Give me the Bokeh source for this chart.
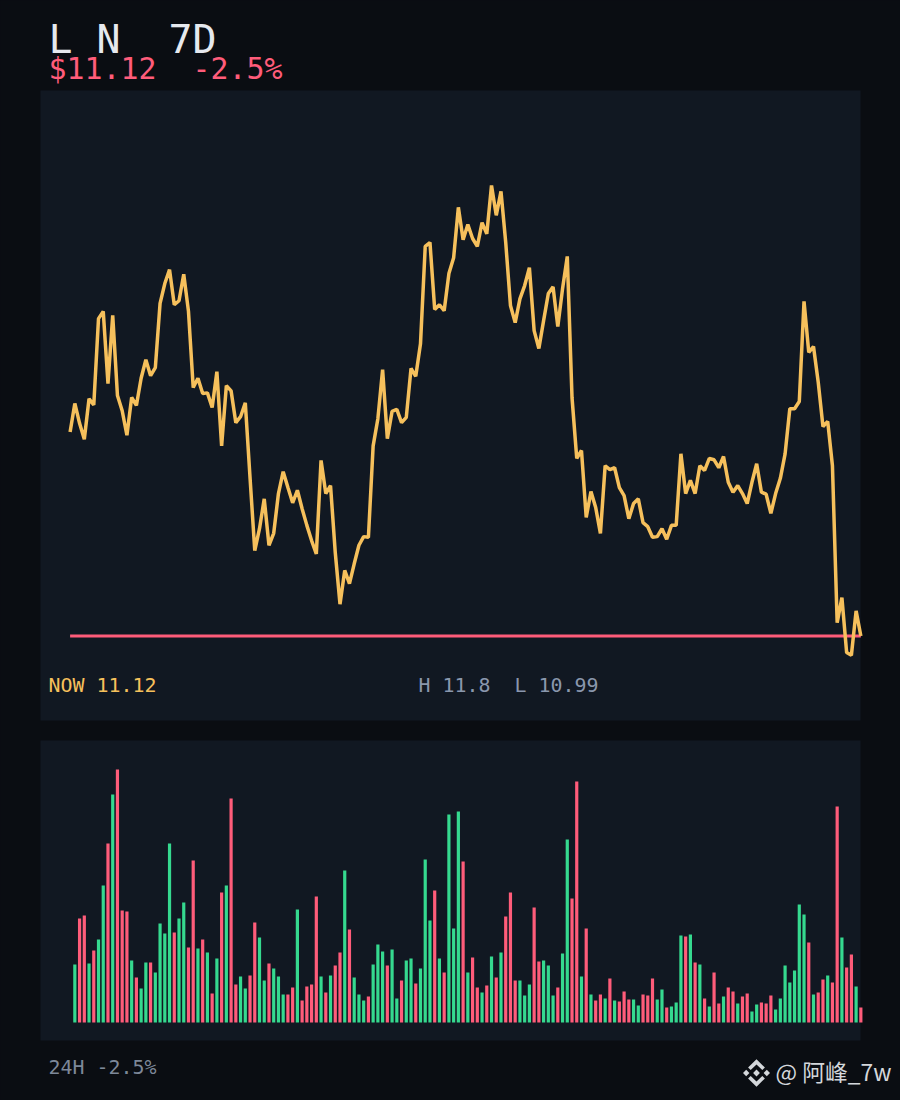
from bokeh.plotting import figure
from bokeh.models import Range1d
from bokeh.core.properties import value
from bokeh.embed import file_html
from bokeh.resources import INLINE

title_text = "L N  7D"
price_text = "$11.12  -2.5%"
now_text = "NOW 11.12"
hilo_text = "H 11.8  L 10.99"
footer_text = "24H -2.5%"
watermark_text = "@ 阿峰_7w"
now_price = 11.12

prices = [
    11.428, 11.471, 11.441, 11.417, 11.478, 11.469, 11.599, 11.610, 11.501, 11.604,
    11.483, 11.460, 11.423, 11.480, 11.468, 11.509, 11.537, 11.513, 11.525, 11.622,
    11.652, 11.673, 11.620, 11.626, 11.666, 11.610, 11.495, 11.509, 11.486, 11.487,
    11.465, 11.519, 11.407, 11.498, 11.490, 11.442, 11.451, 11.472, 11.359, 11.249,
    11.282, 11.327, 11.257, 11.275, 11.335, 11.368, 11.344, 11.321, 11.340, 11.312,
    11.287, 11.264, 11.244, 11.385, 11.335, 11.347, 11.246, 11.168, 11.219, 11.199,
    11.229, 11.257, 11.270, 11.269, 11.407, 11.448, 11.522, 11.418, 11.459, 11.462,
    11.442, 11.450, 11.524, 11.512, 11.561, 11.708, 11.714, 11.613, 11.620, 11.611,
    11.667, 11.691, 11.767, 11.718, 11.741, 11.720, 11.708, 11.744, 11.727, 11.800,
    11.755, 11.791, 11.714, 11.619, 11.593, 11.629, 11.649, 11.676, 11.581, 11.554,
    11.596, 11.637, 11.647, 11.587, 11.644, 11.693, 11.480, 11.388, 11.400, 11.299,
    11.338, 11.314, 11.275, 11.377, 11.371, 11.374, 11.344, 11.332, 11.297, 11.320,
    11.327, 11.291, 11.285, 11.269, 11.270, 11.282, 11.266, 11.287, 11.287, 11.395,
    11.335, 11.355, 11.335, 11.377, 11.370, 11.388, 11.386, 11.374, 11.391, 11.352,
    11.337, 11.347, 11.335, 11.320, 11.352, 11.380, 11.337, 11.334, 11.305, 11.335,
    11.358, 11.395, 11.463, 11.463, 11.474, 11.625, 11.548, 11.557, 11.503, 11.436,
    11.444, 11.377, 11.140, 11.178, 11.095, 11.091, 11.158, 11.120,
]

volumes = [
    58, 104, 107, 59, 72, 83, 137, 179, 228, 253, 112, 111, 62, 45, 34, 60, 60, 50, 99, 89,
    179, 90, 104, 120, 75, 162, 74, 83, 70, 29, 64, 130, 137, 224, 38, 46, 34, 47, 100, 85,
    42, 59, 54, 46, 28, 28, 35, 113, 22, 36, 38, 126, 46, 30, 47,
    57, 70, 152, 93, 45, 28, 22, 26, 58, 78, 71, 57, 73, 24, 42, 62, 64, 39, 54, 163,
    102, 132, 64, 50, 208, 94, 211, 161, 50, 65, 35, 30, 37, 66, 45, 70, 106, 130, 42, 42,
    27, 38, 115, 61, 62, 57, 27, 35, 69, 183, 124, 241, 46, 94, 28, 22, 28,
    24, 44, 22, 21, 31, 23, 23, 17, 28, 27, 44, 23, 33, 15, 16, 20, 87, 86, 88, 60,
    58, 24, 16, 50, 19, 26, 35, 31, 19, 26, 29, 11, 18, 20, 19, 27, 13, 24, 57, 40,
    52, 118, 108, 80, 28, 30, 43, 47, 40, 216, 85, 55, 68, 36, 15,
]

volume_sides = list(
    "GRRGRGGRGRRRGRGGRGGGGRGGRRGRGRGRGRRGGRRGGRGGGRRGRRRRGRG"
    "RRGRGGGRGGGRGGRGGRGGGRGRGGGRGRRGRGRGRRRGGGRRGGGRGGRRGRGRR"
    "GRGRRRGGRRRGGRGGGRGRGRGRRGRRGRRGGRRRGGGGGGGRGRRGRRGRRGR"
)

PAGE = "#0a0d12"
PANEL = "#111822"
AMBER = "#f6c05c"
PINK = "#ff5c7a"
GREEN = "#35d98f"
WHITE = "#e6e9ee"
GREY = "#8a97ad"
FOOT = "#7d8899"
MARK = "#d4d7db"
MONO = value("DejaVu Sans Mono")

hours = list(range(len(prices)))
vol_hours = hours[1:1 + len(volumes)]
bar_colors = [GREEN if s == "G" else PINK for s in volume_sides]

step = 4.735
px_per_usd = 662.5
p = figure(
    width=900, height=1100, output_backend="svg", toolbar_location=None,
    x_axis_type=None, y_axis_type=None, min_border=0,
    x_range=Range1d(-69.6 / step, 830.4 / step),
    y_range=Range1d(now_price - 464.5 / px_per_usd, now_price + 635.5 / px_per_usd),
    background_fill_color=PAGE, border_fill_color=PAGE, outline_line_color=None,
)
p.grid.visible = False
p.extra_x_ranges["page_x"] = Range1d(0, 900)
p.extra_y_ranges["page_y"] = Range1d(1100, 0)
p.extra_y_ranges["volume"] = Range1d(-78, 1022)

page = dict(x_range_name="page_x", y_range_name="page_y")

# panels
p.quad(left=[40, 40], right=[860, 860], top=[90, 740], bottom=[720, 1040],
       fill_color=PANEL, line_color=None, **page)

# price panel
p.line([hours[0], hours[-1]], [now_price, now_price], line_color=PINK, line_width=3)
p.line(hours, prices, line_color=AMBER, line_width=3.5, line_join="bevel")

# volume panel
p.vbar(x=vol_hours, top=volumes, bottom=0, width=3.2 / step, fill_color=bar_colors,
       line_color=None, y_range_name="volume")


def label(x, y, text, size, color, font=MONO):
    # non-breaking spaces keep the double gaps of the monospaced labels in SVG
    p.text([x], [y], text=[text.replace(" ", "\u00a0")], text_font=font,
           text_font_size=f"{size}px", text_color=color,
           text_baseline="alphabetic", **page)


label(48, 38, title_text, 39.9, WHITE)
label(48, 67.5, price_text, 29.9, PINK)
label(48, 685, now_text, 19.93, AMBER)
label(418, 685, hilo_text, 19.93, GREY)
label(48, 1067, footer_text, 19.93, FOOT)
label(775, 1070.5, watermark_text, 22.8, MARK, font=value("Noto Sans CJK SC"))

# Binance-style logo in the watermark
cx, cy = 756.0, 1072.5
logo_x = [
    [cx - 3.4, cx, cx + 3.4, cx],
    [cx - 13.5, cx - 10.3, cx - 7.1, cx - 10.3],
    [cx + 7.1, cx + 10.3, cx + 13.5, cx + 10.3],
    [cx - 8.4, cx, cx + 8.4, cx + 5.8, cx, cx - 5.8],
    [cx - 8.4, cx, cx + 8.4, cx + 5.8, cx, cx - 5.8],
]
logo_y = [
    [cy, cy - 3.4, cy, cy + 3.4],
    [cy, cy - 3.2, cy, cy + 3.2],
    [cy, cy - 3.2, cy, cy + 3.2],
    [cy - 5.4, cy - 13.8, cy - 5.4, cy - 2.9, cy - 8.6, cy - 2.9],
    [cy + 5.4, cy + 13.8, cy + 5.4, cy + 2.9, cy + 8.6, cy + 2.9],
]
p.patches(logo_x, logo_y, fill_color=MARK, line_color=None, **page)

html = file_html(p, INLINE).replace(
    "<head>", f"<head><style>html,body{{margin:0;overflow:hidden;background:{PAGE}}}</style>", 1
)
open("out.html", "w").write(html)
